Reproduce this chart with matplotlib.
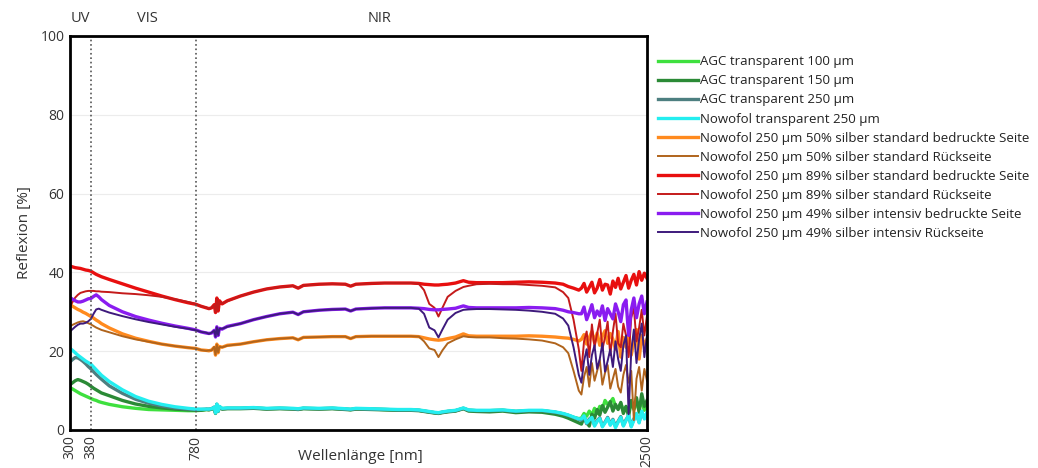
import numpy as np
import matplotlib.pyplot as plt
from matplotlib.transforms import blended_transform_factory

plt.rcParams['font.family'] = ['Open Sans', 'DejaVu Sans']

# wavelength grid [nm]
wl = [300, 310, 320, 330, 340, 350, 360, 370, 380, 390, 400, 410, 420, 450, 500, 550, 600, 650, 700, 750, 780, 800,
      820, 830, 840, 850, 855, 860, 865, 870, 880, 900,
      950, 1000, 1050, 1100, 1150, 1170, 1190, 1250, 1300, 1350, 1370, 1390, 1450, 1500, 1550, 1600, 1630, 1650,
      1670, 1690, 1705, 1720, 1740, 1770, 1800, 1820, 1850, 1900, 1950, 2000, 2050, 2100, 2150, 2180, 2200, 2220, 2240,
      2250, 2260, 2270, 2280, 2290, 2300, 2310, 2320, 2330, 2340, 2350, 2360, 2370, 2380, 2390, 2400, 2410, 2420,
      2430, 2440, 2450, 2460, 2470, 2480, 2490, 2500]

agc100 = [10.8, 10.4, 10.0, 9.6, 9.2, 8.9, 8.6, 8.3, 8.0, 7.7, 7.5, 7.2, 7.0, 6.5, 5.9, 5.5, 5.2, 5.1, 5.0, 4.9, 4.9, 5.0,
          5.2, 5.2, 5.3, 5.7, 4.4, 6.4, 4.9, 5.9, 5.4, 5.5,
          5.5, 5.6, 5.4, 5.5, 5.4, 5.3, 5.5, 5.4, 5.5, 5.3, 5.2, 5.4, 5.3, 5.2, 5.1, 5.1, 5.0, 4.8,
          4.6, 4.4, 4.3, 4.5, 4.7, 4.9, 5.5, 5.0, 4.9, 4.9, 5.0, 4.7, 4.9, 4.9, 4.5, 4.1, 3.7, 3.2, 2.9,
          3.0, 4.2, 3.5, 4.8, 3.8, 5.5, 4.2, 6.0, 5.2, 7.5, 6.5, 7.0, 8.0, 6.0, 5.5, 6.8, 5.0, 5.8,
          4.8, 6.8, 5.2, 6.5, 5.8, 7.2, 5.0, 6.2]
agc150 = [11.5, 12.0, 12.5, 12.8, 12.6, 12.3, 12.0, 11.6, 11.1, 10.6, 10.2, 9.8, 9.4, 8.7, 7.5, 6.6, 6.0, 5.6, 5.3, 5.1, 5.0, 5.0,
          5.2, 5.1, 5.3, 5.6, 4.2, 6.5, 4.7, 5.8, 5.3, 5.4,
          5.4, 5.5, 5.3, 5.4, 5.3, 5.2, 5.4, 5.3, 5.4, 5.2, 5.1, 5.3, 5.2, 5.1, 5.0, 5.0, 4.9, 4.7,
          4.5, 4.3, 4.2, 4.4, 4.6, 4.8, 5.4, 4.8, 4.7, 4.6, 4.8, 4.4, 4.6, 4.5, 4.0, 3.5, 3.0, 2.4, 1.8,
          1.5, 3.2, 2.0, 1.0, 4.0, 3.0, 5.2, 3.8, 6.2, 4.5, 5.8, 7.2, 4.8, 6.5, 5.2, 7.0, 4.2, 6.0,
          3.5, 7.5, 5.5, 8.2, 4.5, 9.2, 6.0, 7.5]
agc250 = [17.3, 17.9, 18.4, 18.3, 17.9, 17.4, 16.8, 16.1, 15.5, 14.8, 14.1, 13.5, 12.9, 11.2, 9.3, 7.8, 6.8, 6.1, 5.6, 5.3, 5.2, 5.2,
          5.3, 5.3, 5.4, 5.8, 4.4, 6.5, 4.8, 5.9, 5.4, 5.5,
          5.5, 5.6, 5.4, 5.5, 5.4, 5.3, 5.5, 5.4, 5.5, 5.3, 5.2, 5.4, 5.3, 5.2, 5.1, 5.1, 5.0, 4.8,
          4.6, 4.4, 4.3, 4.5, 4.7, 4.9, 5.5, 5.0, 4.9, 4.9, 5.0, 4.7, 4.9, 4.9, 4.5, 4.1, 3.7, 3.2, 2.7,
          2.5, 3.3, 1.6, 2.8, 3.0, 1.3, 2.4, 3.1, 1.0, 2.0, 3.2, 1.5, 2.7, 0.9, 2.2, 3.4, 1.2, 2.6,
          3.6, 1.0, 2.8, 4.0, 2.0, 4.6, 3.0, 4.2]
nowo_tr = [20.7, 20.2, 19.6, 19.0, 18.5, 18.0, 17.5, 17.1, 16.7, 16.0, 15.3, 14.6, 13.9, 12.3, 10.2, 8.5, 7.3, 6.5, 5.9, 5.5, 5.3, 5.3,
           5.3, 5.3, 5.4, 5.8, 4.3, 6.6, 4.8, 6.0, 5.5, 5.6,
           5.6, 5.7, 5.5, 5.6, 5.5, 5.4, 5.6, 5.5, 5.6, 5.4, 5.3, 5.5, 5.4, 5.3, 5.2, 5.2, 5.1, 4.9,
           4.7, 4.5, 4.4, 4.6, 4.8, 5.0, 5.6, 5.1, 5.0, 5.0, 5.1, 4.8, 5.0, 5.0, 4.6, 4.2, 3.8, 3.3, 2.8,
           2.8, 3.6, 1.8, 2.5, 3.2, 1.0, 2.2, 2.9, 0.8, 1.8, 3.0, 1.2, 2.5, 0.6, 2.0, 3.2, 1.0, 2.4,
           3.8, 0.8, 2.5, 4.2, 1.8, 4.8, 2.8, 4.5]
s50_front = [31.8, 31.4, 31.0, 30.6, 30.3, 29.9, 29.6, 29.2, 28.8, 28.4, 27.9, 27.5, 27.0, 25.9, 24.4, 23.3, 22.5, 21.8, 21.3, 20.9, 20.7, 20.3,
             20.2, 20.1, 20.3, 21.0, 19.0, 21.8, 19.6, 21.2, 21.0, 21.5,
             21.8, 22.4, 22.9, 23.2, 23.4, 22.9, 23.5, 23.6, 23.7, 23.7, 23.2, 23.7, 23.8, 23.8, 23.8, 23.8, 23.7, 23.4,
             23.1, 22.9, 22.8, 22.9, 23.2, 23.6, 24.4, 23.9, 23.8, 23.8, 23.8, 23.8, 23.9, 23.8, 23.6, 23.4, 23.3, 23.0, 22.6,
             23.0, 24.2, 21.8, 23.5, 25.0, 22.2, 24.6, 21.5, 23.8, 25.2, 22.0, 24.5, 23.0, 20.5, 25.0, 18.5, 23.5, 21.0,
             24.8, 19.0, 22.5, 25.5, 18.0, 24.0, 21.5, 23.0]
s50_back = [26.3, 26.7, 27.0, 27.3, 27.5, 27.6, 27.4, 27.1, 26.8, 26.4, 26.0, 25.7, 25.4, 24.8, 23.8, 23.0, 22.4, 21.8, 21.3, 20.9, 20.7, 20.3,
            20.1, 20.2, 20.2, 21.1, 19.1, 21.7, 19.7, 21.1, 21.0, 21.4,
            21.8, 22.4, 22.9, 23.2, 23.4, 22.9, 23.5, 23.6, 23.7, 23.7, 23.2, 23.7, 23.8, 23.8, 23.8, 23.8, 23.7, 22.5,
            20.7, 20.3, 18.5, 20.2, 22.0, 23.0, 23.8, 23.6, 23.5, 23.5, 23.3, 23.2, 23.0, 22.7, 22.0, 21.0, 19.5, 15.0, 10.0,
            9.0, 13.5, 16.0, 11.0, 17.0, 12.5, 15.0, 17.8, 11.5, 14.5, 16.5, 10.5, 13.0, 15.5, 11.0, 9.5, 14.0, 16.5,
            12.0, 15.0, 2.5, 13.0, 16.0, 10.0, 15.5, 12.5]
s89_front = [41.6, 41.4, 41.2, 41.1, 41.0, 40.8, 40.6, 40.5, 40.3, 39.9, 39.5, 39.2, 38.9, 38.2, 37.1, 36.0, 35.0, 34.0, 33.1, 32.3, 31.9, 31.4,
             31.0, 30.8, 31.0, 31.8, 29.8, 33.5, 30.2, 32.8, 32.0, 32.8,
             34.0, 35.0, 35.8, 36.3, 36.6, 36.0, 36.7, 37.0, 37.1, 37.0, 36.5, 37.0, 37.2, 37.3, 37.3, 37.3, 37.2, 37.0,
             36.9, 36.8, 36.8, 36.9, 37.0, 37.3, 37.9, 37.5, 37.4, 37.4, 37.4, 37.5, 37.6, 37.5, 37.3, 37.0, 36.4, 36.0, 35.5,
             36.0, 37.2, 35.0, 36.2, 37.5, 34.8, 36.0, 38.2, 35.5, 37.0, 36.8, 34.5, 37.8, 36.2, 38.5, 35.8, 37.5, 39.2,
             36.0, 38.0, 39.5, 36.8, 40.2, 38.0, 39.8, 38.5]
s89_back = [31.3, 32.5, 33.6, 34.3, 34.8, 35.0, 35.2, 35.3, 35.3, 35.3, 35.2, 35.2, 35.1, 35.0, 34.7, 34.5, 34.2, 33.8, 33.2, 32.5, 32.0, 31.4,
            31.1, 30.7, 31.1, 31.7, 29.9, 33.3, 30.3, 32.7, 32.1, 32.7,
            34.0, 35.0, 35.8, 36.3, 36.6, 36.0, 36.7, 37.0, 37.1, 37.0, 36.5, 37.0, 37.2, 37.3, 37.3, 37.3, 37.1, 35.5,
            32.0, 31.0, 28.8, 31.0, 33.8, 35.3, 36.3, 36.6, 37.0, 37.1, 37.0, 37.0, 36.8, 36.6, 36.2, 35.0, 33.5, 28.0, 20.5,
            15.0, 22.5, 25.0, 18.5, 26.8, 21.0, 24.5, 28.0, 20.5, 23.5, 27.5, 19.0, 25.0, 29.5, 22.0, 21.0, 27.0, 24.0,
            18.5, 28.5, 31.0, 22.5, 26.0, 30.5, 24.0, 29.0]
s49_front = [33.6, 33.2, 32.8, 32.5, 32.5, 32.7, 33.0, 33.3, 33.4, 33.9, 34.3, 33.8, 33.1, 31.6, 30.0, 28.8, 27.9, 27.1, 26.4, 25.8, 25.4, 24.9,
             24.6, 24.5, 24.6, 25.3, 23.6, 26.2, 24.0, 25.8, 25.6, 26.3,
             27.0, 28.0, 28.8, 29.5, 29.9, 29.3, 30.0, 30.4, 30.6, 30.7, 30.2, 30.7, 30.9, 31.0, 31.0, 31.0, 30.9, 30.8,
             30.6, 30.5, 30.5, 30.6, 30.7, 30.9, 31.5, 31.1, 31.0, 31.0, 31.0, 31.0, 31.1, 31.0, 30.8, 30.4, 30.0, 29.8, 29.5,
             29.5, 31.2, 28.0, 29.8, 31.8, 28.5, 30.2, 29.0, 31.5, 27.8, 30.8, 29.5, 28.2, 32.0, 30.0, 27.5, 31.8, 33.0,
             24.0, 30.5, 33.5, 28.5, 32.0, 34.0, 29.5, 32.5]
s49_back = [25.0, 25.6, 26.2, 26.7, 27.0, 27.0, 27.2, 27.6, 28.2, 29.5, 30.6, 30.8, 30.5, 29.8, 28.9, 28.1, 27.4, 26.8, 26.2, 25.7, 25.3, 24.9,
            24.7, 24.4, 24.7, 25.2, 23.7, 26.1, 24.1, 25.7, 25.7, 26.2,
            27.0, 28.0, 28.8, 29.5, 29.9, 29.3, 30.0, 30.4, 30.6, 30.7, 30.2, 30.7, 30.9, 31.0, 31.0, 31.0, 30.8, 29.5,
            26.0, 25.3, 23.5, 25.5, 28.0, 29.7, 30.5, 30.6, 30.7, 30.7, 30.6, 30.5, 30.3, 30.0, 29.5, 28.3, 26.5, 21.0, 14.0,
            12.0, 17.5, 20.5, 14.0, 19.0, 21.5, 15.5, 18.0, 22.0, 14.8, 17.5, 20.5, 16.0, 22.5, 18.0, 15.0, 21.5, 24.0,
            4.0, 20.0, 25.5, 17.0, 23.0, 27.0, 18.5, 24.0]

series = [
    ('AGC transparent 100 µm', agc100, '#3ee03e', 2.4),
    ('AGC transparent 150 µm', agc150, '#2b8a36', 2.4),
    ('AGC transparent 250 µm', agc250, '#4d7f80', 2.4),
    ('Nowofol transparent 250 µm', nowo_tr, '#24eef0', 2.4),
    ('Nowofol 250 µm 50% silber standard bedruckte Seite', s50_front, '#ff8a1e', 2.4),
    ('Nowofol 250 µm 50% silber standard Rückseite', s50_back, '#b0641c', 1.4),
    ('Nowofol 250 µm 89% silber standard bedruckte Seite', s89_front, '#e80f0f', 2.4),
    ('Nowofol 250 µm 89% silber standard Rückseite', s89_back, '#c41a1a', 1.4),
    ('Nowofol 250 µm 49% silber intensiv bedruckte Seite', s49_front, '#8a1cf0', 2.4),
    ('Nowofol 250 µm 49% silber intensiv Rückseite', s49_back, '#3e1a7c', 1.4),
]

fig = plt.figure(figsize=(10.38, 4.68), dpi=100)
ax = fig.add_axes([0.0674, 0.0812, 0.5559, 0.8419])

for name, vals, col, lw in series:
    ax.plot(wl, vals, color=col, lw=lw, label=name)

ax.set_xlim(300, 2500)
ax.set_ylim(0, 100)
ax.set_xticks([300, 380, 780, 2500])
ax.set_xticklabels(['300', '380', '780', '2500'], rotation=90)
ax.set_yticks([0, 20, 40, 60, 80, 100])
ax.tick_params(length=0, labelsize=10, colors='#333333', pad=4)
ax.yaxis.grid(True, color='#ececec', lw=0.8)
ax.set_axisbelow(True)
for sp in ax.spines.values():
    sp.set_linewidth(2)

ax.axvline(380, color='#555555', ls=':', lw=1.2)
ax.axvline(780, color='#555555', ls=':', lw=1.2)

tr = blended_transform_factory(ax.transData, ax.transAxes)
for lab, xpos in [('UV', 340), ('VIS', 594), ('NIR', 1482)]:
    ax.text(xpos, 1.045, lab, transform=tr, ha='center', va='center', fontsize=10.5, color='#333333')

# x label sits beside the rotated tick labels, as in the original
fig.text(360 / 1038, 1 - 457 / 468, 'Wellenlänge [nm]', ha='center', va='center', fontsize=11, color='#333333')
ax.set_ylabel('Reflexion [%]', fontsize=11, color='#333333', labelpad=6)

fig.legend(loc='upper left', bbox_to_anchor=(0.629, 0.893), frameon=False, fontsize=9.5,
           handlelength=3.0, handletextpad=0.15, labelspacing=0.46, borderaxespad=0, labelcolor='#222222')

fig.savefig('out.png', dpi=100)
